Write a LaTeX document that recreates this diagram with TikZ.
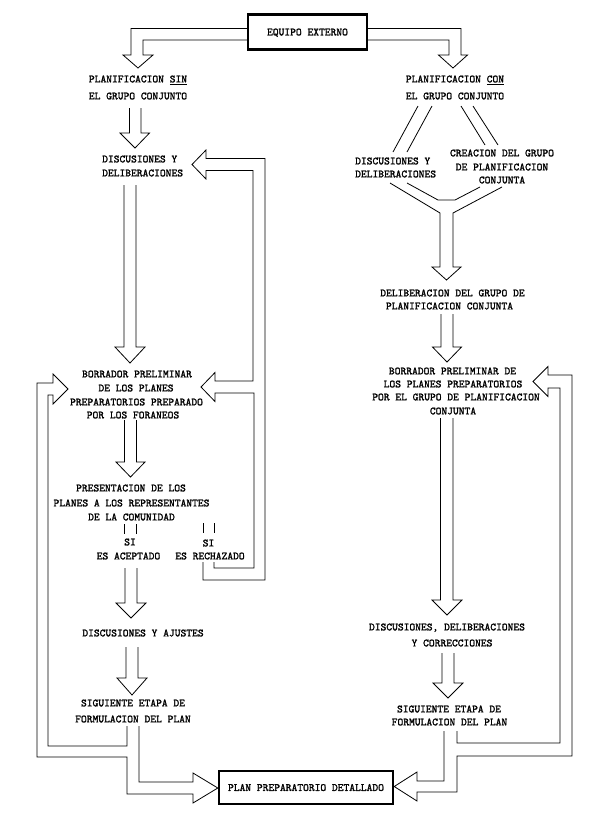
\documentclass[tikz,border=0pt]{standalone}
\usepackage{fontspec}
\setmonofont{Latin Modern Mono}[BoldFont={Latin Modern Mono},BoldFeatures={FakeBold=1.6}]
\begin{document}
\tikzset{
  txt/.style={font=\ttfamily\bfseries\fontsize{11}{13}\selectfont, inner sep=0pt, anchor=base},
  ln/.style={line width=0.8pt, line join=miter},
  bx/.style={draw, line width=2.4pt, inner sep=0pt, text depth=0pt,
    font=\ttfamily\bfseries\fontsize{11}{13}\selectfont}
}
\newcommand{\txtline}[4]{\node[txt] (#1) at ({#2},{#3+3.4}) {#4};}
\newcommand{\txtleft}[4]{\node[txt,anchor=base west] (#1) at ({#2},{#3+3.4}) {#4};}
\begin{tikzpicture}[x=1pt,y=-1pt]
\useasboundingbox (0,0) rectangle (600,815);
\fill[white] (0,0) rectangle (600,815);

% boxes
\node[bx, minimum width=119pt, minimum height=35pt] (ext) at (307.5,32) {EQUIPO EXTERNO};
\node[bx, minimum width=174pt, minimum height=33pt] (plan) at (306,787.5) {PLAN PREPARATORIO DETALLADO};

% ---------- texts, left column
\txtline{ls1}{138}{79}{PLANIFICACION \underline{SIN}}
\txtline{ls2}{138}{96}{EL GRUPO CONJUNTO}
\txtleft{ld1}{102}{159}{DISCUSIONES Y}
\txtleft{ld2}{102}{173}{DELIBERACIONES}
\txtline{lb1}{137}{374}{BORRADOR PRELIMINAR}
\txtline{lb2}{136}{388}{DE LOS PLANES}
\txtline{lb3}{136.5}{402}{PREPARATORIOS PREPARADO}
\txtline{lb4}{133}{415}{POR LOS FORANEOS}
\txtline{lp1}{131}{488}{PRESENTACION DE LOS}
\txtline{lp2}{131.5}{503}{PLANES A LOS REPRESENTANTES}
\txtline{lp3}{131.5}{517}{DE LA COMUNIDAD}
\txtline{lsi1}{130}{542}{SI}
\txtline{lacc}{128.5}{556}{ES ACEPTADO}
\txtline{lsi2}{208.5}{543}{SI}
\txtline{lrec}{210}{556}{ES RECHAZADO}
\txtline{laj}{143}{633}{DISCUSIONES Y AJUSTES}
\txtline{lsg1}{133}{703}{SIGUIENTE ETAPA DE}
\txtline{lsg2}{133}{719}{FORMULACION DEL PLAN}

% ---------- texts, right column
\txtline{rc1}{455}{79}{PLANIFICACION \underline{CON}}
\txtline{rc2}{455}{96}{EL GRUPO CONJUNTO}
\txtleft{rd1}{355}{161}{DISCUSIONES Y}
\txtleft{rd2}{355}{174}{DELIBERACIONES}
\txtline{rcr1}{502}{153}{CREACION DEL GRUPO}
\txtline{rcr2}{502}{167}{DE PLANIFICACION}
\txtline{rcr3}{502}{180}{CONJUNTA}
\txtline{rdl1}{452.5}{293}{DELIBERACION DEL GRUPO DE}
\txtline{rdl2}{449.5}{306}{PLANIFICACION CONJUNTA}
\txtline{rb1}{452.5}{371}{BORRADOR PRELIMINAR DE}
\txtline{rb2}{453}{384}{LOS PLANES PREPARATORIOS}
\txtline{rb3}{456}{397}{POR EL GRUPO DE PLANIFICACION}
\txtline{rb4}{453}{411}{CONJUNTA}
\txtline{rdc1}{447}{627}{DISCUSIONES, DELIBERACIONES}
\txtline{rdc2}{452}{643}{Y CORRECCIONES}
\txtline{rsg1}{449}{709}{SIGUIENTE ETAPA DE}
\txtline{rsg2}{449.5}{722}{FORMULACION DEL PLAN}

% ---------- hollow arrows from the top box
\draw[ln] (ext.west |- 0,28.5) -- (131,28.5) -- (131,55) -- (123,55) -- (138,68) -- (153,55) -- (143,55) -- (143,40) -- (ext.west |- 0,40);
\draw[ln] (ext.east |- 0,28.5) -- (461,28.5) -- (461,55) -- (467.5,55) -- (453,68) -- (438.5,55) -- (449,55) -- (449,40) -- (ext.east |- 0,40);

% ---------- left column
\draw[ln] (129.5,108) -- (129.5,133) -- (120,133) -- (135,148) -- (149.5,133) -- (141,133) -- (141,108);
\draw[ln] (124,185) -- (124,347) -- (115,347) -- (130,363) -- (145,347) -- (136,347) -- (136,185);
\draw[ln] (124.5,420) -- (124.5,462) -- (116,462) -- (130.5,477) -- (145,462) -- (136.5,462) -- (136.5,420);
\draw[ln] (124,524) -- (124,534) (136,524) -- (136,534);
\draw[ln] (203,523) -- (203,533) (214,523) -- (214,533);
\draw[ln] (125,568) -- (125,603) -- (116,603) -- (131,618) -- (146,603) -- (137,603) -- (137,568);
\draw[ln] (126,647) -- (126,678) -- (117,678) -- (132,695) -- (147,678) -- (138,678) -- (138,647);

% feedback loop from ES RECHAZADO
\draw[ln] (203,562) -- (203,580) -- (265,580) -- (265,158.5) -- (206,158.5) -- (206,150) -- (192,164.5) -- (206,179) -- (206,170.5) -- (253,170.5) -- (253,381) -- (215,381) -- (215,372.5) -- (201,387) -- (215,401.5) -- (215,393) -- (254,393) -- (254,568) -- (214,568) -- (214,562);

% bottom-left branching arrow
\draw[ln] (127,726) -- (127,746) -- (48,746) -- (48,395) -- (53,395) -- (53,404) -- (68,389) -- (53,374) -- (53,383) -- (37,383) -- (37,757) -- (127,757) -- (127,794) -- (193,794) -- (193,803) -- (plan.west |- 0,788) -- (193,773) -- (193,782) -- (139,782) -- (139,726);

% ---------- right column
\draw[ln] (418,106) -- (393,152) (432,106) -- (407,152);
\draw[ln] (461,106) -- (485,145) (473,106) -- (498,145);
\draw[ln] (390,183) -- (440,213) -- (440,267) -- (432,267) -- (446.5,280) -- (461,267) -- (453,267) -- (453,213) -- (502,187);
\draw[ln] (407,183) -- (438,200) -- (455,200) -- (480,187);
\draw[ln] (441,314) -- (441,347) -- (432.5,347) -- (447,362) -- (461.5,347) -- (453,347) -- (453,314);
\draw[ln] (440.5,418) -- (440.5,600) -- (432,600) -- (447,615) -- (462,600) -- (453,600) -- (453,418);
\draw[ln] (442,653) -- (442,683) -- (433,683) -- (448,698) -- (463,683) -- (454,683) -- (454,653);

% bottom-right branching arrow
\draw[ln] (457,731) -- (457,743) -- (560,743) -- (560,388) -- (548,388) -- (548,396.5) -- (533,381.5) -- (548,366.5) -- (548,375) -- (572,375) -- (572,756) -- (457,756) -- (457,792) -- (417,792) -- (417,801) -- (plan.east |- 0,786.5) -- (417,772) -- (417,781) -- (444,781) -- (444,731);
\end{tikzpicture}
\end{document}
